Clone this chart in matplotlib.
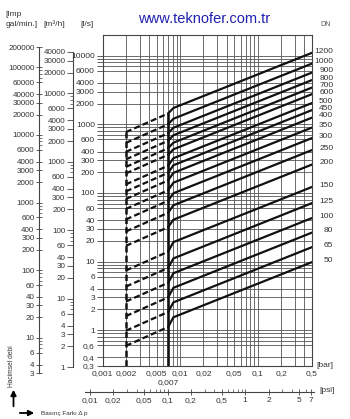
import numpy as np
import matplotlib
matplotlib.use('Agg')
import matplotlib.pyplot as plt
from matplotlib.ticker import FixedLocator, FixedFormatter, NullFormatter

plt.rcParams['font.family'] = ['Liberation Sans', 'DejaVu Sans']

# valve sizes and flow (l/s)
dn = [50, 65, 80, 100, 125, 150, 200, 250, 300, 350, 400, 450, 500, 600, 700, 800, 900, 1000, 1200]
q_start = [0.59, 0.98, 1.6, 2.61, 4.31, 7.4, 16.9, 27.4, 41, 58.4, 81.5, 105, 133, 192, 239, 308, 396, 535, 768]   # at 0.002 bar
q_knee = [1.11, 1.84, 3.0, 4.89, 8.07, 13.9, 31.6, 51.3, 76.8, 109, 152, 196, 249, 359, 448, 575, 740, 1001, 1436]  # at 0.007 bar
q_bend = [1.54, 2.54, 4.14, 6.75, 11.1, 19.2, 40.7, 66, 99, 141, 196, 253, 320, 432, 539, 692, 890, 1204, 1727]    # at 0.0082 bar
q_end = [9.8, 16.2, 26.4, 43, 71, 122, 259, 421, 630, 896, 1250, 1610, 2040, 2750, 3430, 4410, 5670, 7670, 11000]  # at 0.5 bar
dp_dash = [0.002, 0.007]
dp_solid = [0.007, 0.0082, 0.5]

ls_major = [0.3, 0.4, 0.6, 1, 2, 3, 4, 6, 10, 20, 30, 40, 60, 100, 200, 300, 400, 600,
            1000, 2000, 3000, 4000, 6000, 10000]
ls_minor = [0.7, 0.8, 0.9, 7, 8, 9, 70, 80, 90, 700, 800, 900, 7000, 8000, 9000]
bar_major = [0.001, 0.002, 0.005, 0.01, 0.02, 0.05, 0.1, 0.2, 0.5]
bar_minor = [0.003, 0.004, 0.006, 0.007, 0.008, 0.009, 0.03, 0.04, 0.06, 0.07, 0.08, 0.09, 0.3, 0.4]
gal_major = [3, 4, 6, 10, 20, 30, 40, 60, 100, 200, 300, 400, 600, 1000, 2000, 3000, 4000, 6000,
             10000, 20000, 30000, 40000, 60000, 100000, 200000]
gal_minor = [7, 8, 9, 70, 80, 90, 700, 800, 900, 7000, 8000, 9000, 70000, 80000, 90000]
m3h_major = [1, 2, 3, 4, 6, 10, 20, 30, 40, 60, 100, 200, 300, 400, 600, 1000, 2000, 3000, 4000,
             6000, 10000, 20000, 30000, 40000]
m3h_minor = [7, 8, 9, 70, 80, 90, 700, 800, 900, 7000, 8000, 9000]
psi_major = [0.01, 0.02, 0.05, 0.1, 0.2, 0.5, 1, 2, 5, 7]
psi_minor = [0.03, 0.04, 0.06, 0.07, 0.08, 0.09, 0.3, 0.4, 0.6, 0.7, 0.8, 0.9, 3, 4, 6]

W, H = 350, 419
TXT = '#333333'


def rect(x0, y0, x1, y1):
    return [x0 / W, 1 - y1 / H, (x1 - x0) / W, (y1 - y0) / H]


def fmt(v):
    return ('%g' % v).replace('.', ',')


fig = plt.figure(figsize=(3.5, 4.19), dpi=100)

# main chart
L, R = 102.5, 312
ax = fig.add_axes(rect(L, 35, R, 366))
ax.set_xscale('log')
ax.set_yscale('log')
ax.set_xlim(0.001, 0.5)
ax.set_ylim(0.3, 20000)
ax.xaxis.set_major_locator(FixedLocator(bar_major))
ax.xaxis.set_major_formatter(FixedFormatter([fmt(v) for v in bar_major]))
ax.xaxis.set_minor_locator(FixedLocator(bar_minor))
ax.xaxis.set_minor_formatter(NullFormatter())
ax.yaxis.set_major_locator(FixedLocator(ls_major))
ax.yaxis.set_major_formatter(FixedFormatter([fmt(v) for v in ls_major]))
ax.yaxis.set_minor_locator(FixedLocator(ls_minor))
ax.yaxis.set_minor_formatter(NullFormatter())
ax.grid(which='both', color='#555555', lw=0.6)
ax.set_axisbelow(True)
ax.tick_params(axis='x', which='both', length=0, pad=3, labelsize=6, labelcolor=TXT)
ax.tick_params(axis='y', which='both', direction='out', length=4, width=0.6, color='#444444',
               pad=1.5, labelsize=6, labelcolor=TXT)
for s in ax.spines.values():
    s.set_color('#444444')
    s.set_linewidth(0.8)

ax.vlines(0.002, 0.3, max(q_start), colors='#111111', lw=1.8, linestyles=(0, (2.5, 1.3)))
ax.vlines(0.007, 0.3, max(q_knee), colors='#111111', lw=1.9)
for i in range(len(dn)):
    ax.plot(dp_dash, [q_start[i], q_knee[i]], color='#111111', lw=1.6, dashes=(2.7, 1.4))
    ax.plot(dp_solid, [q_knee[i], q_bend[i], q_end[i]], color='#111111', lw=1.6,
            solid_capstyle='round', solid_joinstyle='round')
    ax.annotate(str(dn[i]), xy=(1, q_end[i]), xycoords=('axes fraction', 'data'),
                xytext=(15.3, 1.2), textcoords='offset points', ha='right', va='center',
                fontsize=6, color=TXT)

ax.annotate('0,007', xy=(0.007, 0), xycoords=('data', 'axes fraction'), xytext=(0, -12),
            textcoords='offset points', ha='center', va='center', fontsize=6, color=TXT)
ax.annotate('[bar]', xy=(1, 0), xycoords='axes fraction', xytext=(3, 0.5),
            textcoords='offset points', ha='left', va='center', fontsize=6, color=TXT)


def scale_axis(x, top, bottom, lims, major, minor, major_dir, minor_dir):
    a = fig.add_axes(rect(x, top, x + 1, bottom))
    a.patch.set_visible(False)
    for k in ['right', 'top', 'bottom']:
        a.spines[k].set_visible(False)
    a.spines['left'].set_color('#444444')
    a.spines['left'].set_linewidth(0.8)
    a.set_xticks([])
    a.set_yscale('log')
    a.set_ylim(lims)
    a.yaxis.set_major_locator(FixedLocator(major))
    a.yaxis.set_major_formatter(FixedFormatter([fmt(v) for v in major]))
    a.yaxis.set_minor_locator(FixedLocator(minor))
    a.yaxis.set_minor_formatter(NullFormatter())
    a.tick_params(axis='y', which='major', direction=major_dir, length=4.5, width=0.6,
                  color='#444444', labelsize=5.8, labelcolor=TXT, pad=1)
    a.tick_params(axis='y', which='minor', direction=minor_dir, length=2.2, width=0.5,
                  color='#444444')
    return a


scale_axis(39, 47, 373, (3, 200000), gal_major, gal_minor, 'inout', 'in')
scale_axis(73, 52, 367, (1, 40000), m3h_major, m3h_minor, 'out', 'out')

# psi scale under the chart
dpp = np.log10(500) / (R - L)
px0, px1 = 85, 314
psi_lo = 10 ** (-3 + (px0 - L) * dpp) * 14.5038
psi_hi = 10 ** (-3 + (px1 - L) * dpp) * 14.5038
pa = fig.add_axes(rect(px0, 390, px1, 391.5))
pa.patch.set_visible(False)
for k in ['left', 'right', 'top']:
    pa.spines[k].set_visible(False)
pa.spines['bottom'].set_color('#444444')
pa.spines['bottom'].set_linewidth(0.8)
pa.set_yticks([])
pa.set_xscale('log')
pa.set_xlim(psi_lo, psi_hi)
pa.xaxis.set_major_locator(FixedLocator(psi_major))
pa.xaxis.set_major_formatter(FixedFormatter([fmt(v) for v in psi_major]))
pa.xaxis.set_minor_locator(FixedLocator(psi_minor))
pa.xaxis.set_minor_formatter(NullFormatter())
pa.tick_params(axis='x', which='major', direction='inout', length=4, width=0.6, color='#444444',
               labelsize=6, labelcolor=TXT, pad=2)
pa.tick_params(axis='x', which='minor', direction='in', length=2.2, width=0.5, color='#444444')
pa.annotate('[psi]', xy=(1, 0), xycoords='axes fraction', xytext=(4, 1),
            textcoords='offset points', ha='left', va='center', fontsize=6, color=TXT)

# headers and notes
fig.text(5 / W, 1 - 15 / H, '[Imp', fontsize=6, color=TXT, va='center')
fig.text(6 / W, 1 - 25 / H, 'gal/min.]', fontsize=6, color=TXT, va='center')
fig.text(43 / W, 1 - 24 / H, '[m³/h]', fontsize=6, color=TXT, va='center')
fig.text(80 / W, 1 - 25 / H, '[l/s]', fontsize=6, color=TXT, va='center')
fig.text(320 / W, 1 - 25 / H, 'DN', fontsize=5, color='#555555', va='center')
fig.text(204 / W, 1 - 19 / H, 'www.teknofer.com.tr', fontsize=10.5, color='#2020b0',
         ha='center', va='center')

fig.text(11.5 / W, 1 - 366 / H, 'Hacimsel debi', rotation=90, fontsize=4.8, color=TXT,
         ha='center', va='center')
fig.text(41 / W, 1 - 413 / H, 'Basınç Farkı Δ p', fontsize=4.6, color=TXT, va='center')
fig.patches.append(matplotlib.patches.FancyArrowPatch(
    (13.5 / W, 1 - 409 / H), (13.5 / W, 1 - 387 / H), transform=fig.transFigure,
    arrowstyle='-|>', mutation_scale=8, lw=1.3, color='black'))
fig.patches.append(matplotlib.patches.FancyArrowPatch(
    (17 / W, 1 - 413 / H), (37 / W, 1 - 413 / H), transform=fig.transFigure,
    arrowstyle='-|>', mutation_scale=8, lw=1.3, color='black'))

fig.savefig('out.png', dpi=100)
